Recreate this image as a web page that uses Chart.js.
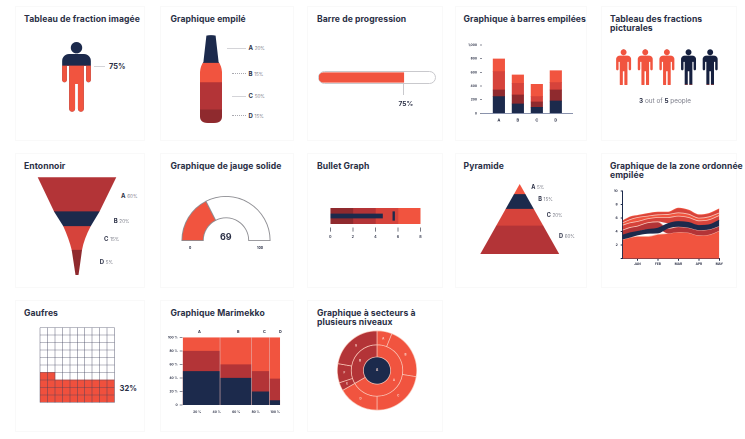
<!DOCTYPE html>
<html lang="fr">
<head>
<meta charset="utf-8">
<title>Graphiques</title>
<script src="https://cdn.jsdelivr.net/npm/chart.js@4"></script>
<style>
  html,body{margin:0;padding:0;background:#fff;width:745px;height:439px;overflow:hidden}
  #page{position:relative;width:745px;height:439px;font-family:Inter,"Open Sans",sans-serif;color:#2a2f45}
  canvas{position:absolute}
  .card{position:absolute;border:1px solid #f9f9f9;box-sizing:border-box}
  .title{position:absolute;font-weight:700;font-size:8.6px;line-height:9px;letter-spacing:.08px;white-space:nowrap;color:#2b3046}
  .lab{position:absolute;white-space:nowrap;transform:translateY(-50%);line-height:1}
  .lab b{font-weight:700;color:#2b3046}
  .pct{color:#7f818c;font-size:4.6px}
  .rule{position:absolute;height:0;border-top:1px solid #d4d4d8}
  .rule.dot{border-top-style:dotted;border-top-color:#a9a9b0}
</style>
</head>
<body>
<div id="page"></div>
<script>
const RED = '#f1543f', MID = '#b33437', SOFT = '#d6433b', DARK = '#8f2a2e', NAVY = '#1c2a4c';

// tableau de fraction imagée
const personFraction = 75;
// graphique empilé (bottom to top), segment heights
const bottleLabels = ['A', 'B', 'C', 'D'];
const bottleText = ['20%', '15%', '50%', '15%'];
const bottleHeights = [15, 31, 22, 32];
// barre de progression
const progressValue = 75;
// barres empilées
const barCategories = ['A', 'B', 'C', 'D'];
const barNavy = [244, 137, 88, 180];
const barDark = [97, 131, 78, 161];
const barMid = [269, 171, 78, 108];
const barLight = [185, 122, 180, 175];
// fractions picturales
const peopleRed = [1, 1, 1, 0, 0];
const peopleNavy = [0, 0, 0, 1, 1];
// entonnoir (bottom to top)
const funnelHeights = [26, 24, 15, 35];
// jauge
const gaugeValue = '69';
const gaugeShares = [35, 65];
// bullet graph
const bulletBands = [[0, 2], [2, 4], [4, 6], [6, 8]];
const bulletMeasure = 4.63;
const bulletTarget = [5.55, 5.7];
// pyramide (bottom to top)
const pyramidHeights = [40, 24, 21, 15];
// zone ordonnée empilée
const areaMonths = ['JAN', 'FEB', 'MAR', 'APR', 'MAY'];
const areaX = [-0.72, -0.35, 0, 0.5, 1, 1.5, 2, 2.5, 3, 3.5, 4];
const areaBase = [2.85, 3.14, 3.3, 3.3, 3.59, 3.73, 3.93, 3.83, 3.44, 3.54, 4.13];
const navyLow = [2.85, 3.14, 3.44, 3.69, 3.74, 4.47, 4.72, 4.57, 4.23, 4.32, 4.82];
const navyHigh = [3.49, 3.83, 4.03, 4.33, 4.52, 5.21, 5.5, 5.36, 4.91, 5.01, 5.7];
const darkLow = [3.49, 3.83, 4.03, 4.33, 4.33, 3.73, 3.93, 3.83, 3.44, 3.54, 4.13];
const darkHigh = [4.23, 4.62, 4.82, 5.31, 5.45, 4.47, 4.72, 4.57, 4.23, 4.32, 4.82];
const upperLow = [4.23, 4.62, 4.82, 5.31, 5.5, 5.25, 5.5, 5.36, 4.91, 5.01, 5.7];
const upperOne = [4.96, 5.31, 5.5, 5.9, 6.09, 6.09, 6.29, 6.09, 5.6, 5.75, 6.39];
const upperTwo = [5.31, 5.8, 6.09, 6.29, 6.49, 6.54, 6.78, 6.58, 6.0, 6.19, 6.78];
const upperTop = [5.6, 6.19, 6.39, 6.68, 6.88, 6.88, 7.47, 7.17, 6.49, 6.68, 7.37];
// gaufres: filled cells per column
const waffleColumns = [4, 4, 3, 3, 3, 3, 3, 3, 3, 3];
// marimekko
const mekkoEdges = [0, 38.3, 70.7, 89, 100];
const mekkoNavy = [50, 40, 20, 7];
const mekkoMid = [80, 60, 50, 39];
const mekkoTop = [100, 100, 100, 100];
// secteurs à plusieurs niveaux
const sunOuter = [22, 77, 81, 60, 12, 28, 80];
const sunOuterColors = [RED, RED, RED, RED, MID, MID, MID];
const sunOuterLabels = ['A', 'B', 'C', 'D', 'E', 'F', 'G'];
const sunMiddle = [240, 120];
const sunMiddleColors = [RED, MID];
const sunMiddleLabels = ['A', 'B'];

Chart.defaults.animation = false;
Chart.defaults.responsive = false;
Chart.defaults.devicePixelRatio = 2;
Chart.defaults.plugins.legend.display = false;
Chart.defaults.plugins.tooltip.enabled = false;
Chart.defaults.font.family = 'Inter, "Open Sans", sans-serif';

const page = document.getElementById('page');

function addCanvas(left, top, width, height){
  const c = document.createElement('canvas');
  c.width = width; c.height = height;
  c.style.left = left + 'px';
  c.style.top = top + 'px';
  page.appendChild(c);
  return c;
}
function addBox(cls, left, top, width, height){
  const d = document.createElement('div');
  d.className = cls;
  d.style.cssText = `left:${left}px;top:${top}px;width:${width}px;height:${height}px`;
  page.appendChild(d);
  return d;
}
function addLabel(html, x, y, size, extra){
  const s = document.createElement('span');
  s.className = 'lab';
  s.innerHTML = html;
  s.style.cssText = `left:${x}px;top:${y}px;font-size:${size}px;${extra || ''}`;
  page.appendChild(s);
}
function addRule(x0, x1, y, dotted){
  const d = document.createElement('div');
  d.className = 'rule' + (dotted ? ' dot' : '');
  d.style.cssText = `left:${x0}px;top:${y}px;width:${x1 - x0}px`;
  page.appendChild(d);
}
function addTitle(text, x, y){
  const d = document.createElement('div');
  d.className = 'title';
  d.innerHTML = text;
  d.style.left = x + 'px';
  d.style.top = y + 'px';
  page.appendChild(d);
}

// cards and titles
[[15, 6, 130, 135], [160, 6, 134, 135], [307, 6, 136, 135], [455, 6, 132, 135], [601, 6, 136, 135],
 [15, 153, 130, 135], [160, 153, 134, 135], [307, 153, 136, 135], [455, 153, 132, 135], [601, 153, 136, 135],
 [15, 300, 130, 132], [160, 300, 134, 132], [307, 300, 136, 132]].forEach(r => addBox('card', r[0], r[1], r[2], r[3]));

addTitle('Tableau de fraction imagée', 24, 14.5);
addTitle('Graphique empilé', 170.5, 14.5);
addTitle('Barre de progression', 317, 14.5);
addTitle('Graphique à barres empilées', 463.5, 14.5);
addTitle('Tableau des fractions<br>picturales', 610, 14.5);
addTitle('Entonnoir', 24, 161.5);
addTitle('Graphique de jauge solide', 170.5, 161.5);
addTitle('Bullet Graph', 317, 161.5);
addTitle('Pyramide', 463.5, 161.5);
addTitle('Graphique de la zone ordonnée<br>empilée', 610, 161.5);
addTitle('Gaufres', 24, 308.5);
addTitle('Graphique Marimekko', 170.5, 308.5);
addTitle('Graphique à secteurs à<br>plusieurs niveaux', 317, 308.5);

const hidden = {display: false};

function personPath(path, x, y, s){
  const add = (px, py, w, h, r) => path.roundRect(x + px * s, y + py * s, w * s, h * s, r.map ? r.map(v => v * s) : r * s);
  path.moveTo(x + (14.35 + 5.7) * s, y + 5.7 * s);
  path.arc(x + 14.35 * s, y + 5.7 * s, 5.7 * s, 0, Math.PI * 2);
  add(0, 12, 28.7, 12, [7, 7, 0, 0]);
  add(0, 20, 4.7, 20.3, 2.3);
  add(24, 20, 4.7, 20.3, 2.3);
  add(7, 20, 14.7, 22, 0);
  add(7, 30, 5.9, 39.7, 2.8);
  add(15.8, 30, 5.9, 39.7, 2.8);
}

// clips the datasets of a chart to a shape, with an optional full-shape underlay
function shapeClip(makePath, underlay){
  return {
    id: 'shapeClip',
    beforeDatasetsDraw(chart){
      const ctx = chart.ctx, path = makePath(chart);
      ctx.save();
      if(underlay){ ctx.fillStyle = underlay; ctx.fill(path); }
      ctx.clip(path);
    },
    afterDatasetsDraw(chart){ chart.ctx.restore(); }
  };
}

function stackedShape(left, top, width, height, heights, colors, makePath){
  const total = heights.reduce((a, b) => a + b, 0);
  return new Chart(addCanvas(left, top, width, height), {
    type: 'bar',
    data: {
      labels: ['x'],
      datasets: heights.map((h, i) => ({data: [h], backgroundColor: colors[i], barPercentage: 1, categoryPercentage: 1}))
    },
    options: {
      scales: {x: {display: false, stacked: true}, y: {display: false, stacked: true, min: 0, max: total}}
    },
    plugins: [shapeClip(makePath)]
  });
}

// 1. personne
new Chart(addCanvas(62, 42, 29, 70), {
  type: 'bar',
  data: {labels: ['x'], datasets: [{data: [personFraction], backgroundColor: RED, barPercentage: 1, categoryPercentage: 1}]},
  options: {scales: {x: hidden, y: {display: false, min: 0, max: 114}}},
  plugins: [shapeClip(() => { const p = new Path2D(); personPath(p, 0.15, 0, 1); return p; }, NAVY)]
});
addRule(94, 105, 66);
addLabel('<b>75%</b>', 109, 66.5, 7.4);

// 2. bouteille
stackedShape(200, 35, 22, 88, bottleHeights, [DARK, MID, RED, NAVY], chart => {
  const p = new Path2D();
  p.moveTo(6.4, 0.6);
  p.quadraticCurveTo(11, -0.4, 15.6, 0.6);
  p.lineTo(18.6, 27);
  p.quadraticCurveTo(21.6, 31, 22, 37);
  p.lineTo(22, 82);
  p.quadraticCurveTo(21.6, 88, 14, 88);
  p.lineTo(8, 88);
  p.quadraticCurveTo(0.4, 88, 0, 82);
  p.lineTo(0, 37);
  p.quadraticCurveTo(0.4, 31, 3.4, 27);
  p.closePath();
  return p;
});
addRule(227, 245.5, 48);
addRule(231.5, 245.5, 73, true);
addRule(232, 245.5, 95.5);
addRule(231.5, 245.5, 115, true);
[48, 73.5, 96, 115.5].forEach((y, i) => addLabel(`<b>${bottleLabels[i]}</b> <span class="pct">${bottleText[i]}</span>`, 248.5, y, 6));

// 3. barre de progression
addBox('', 318, 71, 118, 12.5).style.cssText += ';position:absolute;box-sizing:border-box;border:1px solid #c9c9cd;border-radius:7px;background:#fff';
new Chart(addCanvas(318, 71, 118, 13), {
  type: 'bar',
  data: {labels: ['x'], datasets: [{data: [progressValue], backgroundColor: RED, barThickness: 9.5, borderRadius: {topLeft: 5, bottomLeft: 5}, borderSkipped: false}]},
  options: {
    indexAxis: 'y',
    layout: {padding: {left: 1, right: 4}},
    scales: {x: {display: false, min: 0, max: 100}, y: hidden}
  }
});
addBox('', 403, 83, 0, 12).style.cssText += ';position:absolute;border-left:1px solid #c9c9cd';
addLabel('<b>75%</b>', 398.5, 103.5, 6.6);

// 4. barres empilées
new Chart(addCanvas(462, 38, 116, 88), {
  type: 'bar',
  data: {
    datasets: [barNavy, barDark, barMid, barLight].map((vals, k) => ({
      data: vals.map((y, i) => ({x: i, y})),
      backgroundColor: [NAVY, DARK, SOFT, RED][k],
      barThickness: 11.5
    }))
  },
  options: {
    layout: {padding: {left: 2, top: 7, right: 5.3, bottom: 0}},
    scales: {
      x: {
        type: 'linear', stacked: true, offset: false, min: -0.89, max: 3.89,
        afterFit(s){ s.height = 12.7; },
        border: {color: '#8a93ad', width: 1},
        grid: {drawOnChartArea: false, drawTicks: false, offset: false},
        ticks: {stepSize: 1, includeBounds: false, padding: 4.5, maxRotation: 0, font: {size: 4, weight: 700}, color: '#2b3046', callback: v => barCategories[v]}
      },
      y: {
        stacked: true, min: 0, max: 1000,
        afterFit(s){ s.width = 18; },
        border: {display: false},
        grid: {drawOnChartArea: false, tickLength: 2, color: '#8a8d99'},
        ticks: {stepSize: 200, padding: 3, font: {size: 3.2, weight: 700}, color: '#2b3046'}
      }
    }
  }
});

// 5. personnes
new Chart(addCanvas(612, 49, 110, 36), {
  type: 'bar',
  data: {
    labels: peopleRed.map((v, i) => i),
    datasets: [
      {data: peopleRed, backgroundColor: RED, barPercentage: 1, categoryPercentage: 1},
      {data: peopleNavy, backgroundColor: '#16203f', barPercentage: 1, categoryPercentage: 1}
    ]
  },
  options: {
    layout: {padding: {left: 0.8, right: 1}},
    scales: {x: {display: false, stacked: true}, y: {display: false, stacked: true, min: 0, max: 1}}
  },
  plugins: [shapeClip(chart => {
    const p = new Path2D();
    peopleRed.forEach((v, i) => personPath(p, chart.scales.x.getPixelForValue(i) - 7.5, 0.3, 0.522));
    return p;
  })]
});
addLabel('<b>3</b> out of <b>5</b> people', 639, 100.7, 6.4, 'color:#7d7f8b');

// 6. entonnoir
stackedShape(37, 177, 80, 99, funnelHeights, [DARK, SOFT, NAVY, MID], () => {
  const p = new Path2D();
  p.moveTo(0.7, 0.3);
  p.lineTo(79.3, 0.3);
  p.lineTo(62.3, 35);
  p.lineTo(53.7, 49.3);
  p.quadraticCurveTo(47, 62, 45, 73);
  p.quadraticCurveTo(43, 88, 41.5, 98);
  p.lineTo(38.5, 98);
  p.quadraticCurveTo(37, 88, 34.7, 73);
  p.quadraticCurveTo(32, 62, 26.3, 49.3);
  p.lineTo(17.3, 35);
  p.closePath();
  return p;
});
[['A', '60%', 121, 196], ['B', '20%', 113.7, 220.5], ['C', '15%', 104, 239], ['D', '5%', 99.7, 261.5]]
  .forEach(r => addLabel(`<b>${r[0]}</b> <span class="pct">${r[1]}</span>`, r[2], r[3], 6));

// 7. jauge
new Chart(addCanvas(181, 196, 90, 45), {
  type: 'doughnut',
  data: {datasets: [{data: gaugeShares, backgroundColor: [RED, '#fff'], borderColor: '#8d8d92', borderWidth: 0.9, borderJoinStyle: 'miter'}]},
  options: {rotation: -90, circumference: 180, cutout: '51.5%'}
});
addLabel('<b style="color:#2b3046">' + gaugeValue + '</b>', 220, 235.5, 9);
addLabel('<b>0</b>', 189, 249, 3.4);
addLabel('<b>100</b>', 257, 249, 3.4);

// 8. bullet graph
new Chart(addCanvas(326, 200, 100, 46), {
  type: 'bar',
  data: {
    labels: ['x'],
    datasets: [
      {data: [bulletTarget], backgroundColor: NAVY, barThickness: 8.5, grouped: false},
      {data: [[0, bulletMeasure]], backgroundColor: NAVY, barThickness: 4.2, grouped: false},
      ...bulletBands.map((band, i) => ({data: [band], backgroundColor: [DARK, MID, SOFT, RED][i], barThickness: 15.4, grouped: false}))
    ]
  },
  options: {
    indexAxis: 'y',
    layout: {padding: {left: 4, right: 5.5, top: 4.4, bottom: 0}},
    scales: {
      x: {
        min: 0, max: 8,
        afterFit(s){ s.height = 18.4; },
        border: {display: false},
        grid: {drawOnChartArea: false, tickLength: 4, color: '#777a85'},
        ticks: {stepSize: 2, padding: 3, maxRotation: 0, font: {size: 3.8, weight: 600}, color: '#2b3046'}
      },
      y: hidden
    }
  }
});

// 9. pyramide
stackedShape(480, 184, 80, 70, pyramidHeights, [MID, SOFT, NAVY, RED], () => {
  const p = new Path2D();
  p.moveTo(39.7, 0);
  p.lineTo(79.2, 70);
  p.lineTo(0.3, 70);
  p.closePath();
  return p;
});
[['A', '5%', 531.3, 188], ['B', '15%', 538.3, 200], ['C', '20%', 546.7, 215.5], ['D', '60%', 559, 237]]
  .forEach(r => addLabel(`<b>${r[0]}</b> <span class="pct">${r[1]}</span>`, r[2], r[3], 5.6));

// 10. zone ordonnée empilée
const PALE = '#f9c6b8';
const toPoints = vals => vals.map((y, i) => ({x: areaX[i], y}));
const areaLayers = [
  {low: navyLow, high: navyHigh, color: NAVY, line: NAVY},
  {low: darkLow, high: darkHigh, color: MID, line: PALE},
  {low: upperLow, high: upperOne, color: SOFT, line: PALE},
  {low: upperOne, high: upperTwo, color: RED, line: PALE},
  {low: upperTwo, high: upperTop, color: SOFT, line: RED}
];
const areaDatasets = [];
areaLayers.forEach(l => {
  areaDatasets.push({data: toPoints(l.high), backgroundColor: l.color, borderColor: l.line, borderWidth: 0.8, fill: areaDatasets.length + 1});
  areaDatasets.push({data: toPoints(l.low), borderWidth: 0, fill: false});
});
areaDatasets.push({data: toPoints(areaBase), backgroundColor: RED, borderColor: PALE, borderWidth: 0.8, fill: 'origin'});
new Chart(addCanvas(610, 186, 116, 84), {
  type: 'scatter',
  data: {datasets: areaDatasets.map(d => ({...d, showLine: true, pointRadius: 0, cubicInterpolationMode: 'monotone'}))},
  options: {
    layout: {padding: {left: 1, top: 5, right: 6.7, bottom: 0}},
    scales: {
      x: {
        type: 'linear', min: -0.72, max: 4,
        afterFit(s){ s.height = 11.3; },
        border: {color: '#1c2a4c', width: 1},
        grid: {drawOnChartArea: false, tickLength: 2, color: '#1c2a4c'},
        ticks: {stepSize: 1, includeBounds: false, padding: 1.5, maxRotation: 0, font: {size: 3.2, weight: 700}, color: '#2b3046', callback: v => areaMonths[v]}
      },
      y: {
        min: 0, max: 10,
        afterFit(s){ s.width = 11.7; },
        border: {color: '#1c2a4c', width: 1},
        grid: {drawOnChartArea: false, tickLength: 2, color: '#1c2a4c'},
        ticks: {stepSize: 2, padding: 3, font: {size: 3.4, weight: 700}, color: '#2b3046', callback: v => v === 0 ? '' : v}
      }
    }
  }
});

// 11. gaufres
const WAFFLE_LINE = 'rgba(62,66,92,.7)';
new Chart(addCanvas(38, 325, 79, 80), {
  type: 'bar',
  data: {labels: waffleColumns.map((v, i) => i), datasets: [{data: waffleColumns, backgroundColor: '#f0503d', barPercentage: 1, categoryPercentage: 1}]},
  options: {
    layout: {padding: {left: 2, top: 2.7, right: 2.5, bottom: 2.7}},
    scales: {
      x: {afterFit(s){ s.height = 0; }, grid: {offset: true, z: 1, color: WAFFLE_LINE, lineWidth: 0.6, drawTicks: false}, border: {display: false}, ticks: {display: false}},
      y: {min: 0, max: 10, afterFit(s){ s.width = 0; }, grid: {z: 1, color: WAFFLE_LINE, lineWidth: 0.6, drawTicks: false}, border: {display: false}, ticks: {display: false, stepSize: 1}}
    }
  }
});
addLabel('<b>32%</b>', 119.5, 389, 7.6);

// 12. marimekko
const mekkoStep = heights => heights.flatMap((h, i) => [{x: mekkoEdges[i], y: h}, {x: mekkoEdges[i + 1], y: h}]);
const mekkoSplits = mekkoEdges.slice(1, 4).map(x => ({data: [{x, y: 0}, {x, y: 100}], borderColor: '#e8b5b1', borderWidth: 0.6, fill: false}));
new Chart(addCanvas(164, 332, 126, 88), {
  type: 'scatter',
  data: {
    datasets: [
      ...mekkoSplits,
      {data: mekkoStep(mekkoNavy), backgroundColor: NAVY, borderWidth: 0, fill: 'origin'},
      {data: mekkoStep(mekkoMid), backgroundColor: MID, borderWidth: 0, fill: 'origin'},
      {data: mekkoStep(mekkoTop), backgroundColor: RED, borderWidth: 0, fill: 'origin'}
    ].map(d => ({...d, showLine: true, pointRadius: 0}))
  },
  options: {
    layout: {padding: {left: 0, top: 5.3, right: 4, bottom: 0}},
    scales: {
      x: {
        type: 'linear', min: 0, max: 100,
        afterFit(s){ s.height = 15; },
        border: {display: false},
        grid: {drawOnChartArea: false, drawTicks: false},
        ticks: {stepSize: 20, padding: 5, labelOffset: -5, maxRotation: 0, font: {size: 3.2, weight: 700}, color: '#2b3046', callback: v => v === 0 ? '' : v + ' %'}
      },
      y: {
        min: 0, max: 100,
        afterFit(s){ s.width = 18.7; },
        border: {display: false},
        grid: {drawOnChartArea: false, tickLength: 3, color: '#8a8d99'},
        ticks: {stepSize: 20, padding: 2, font: {size: 3.2, weight: 700}, color: '#2b3046', callback: v => v === 0 ? '0' : v + ' %'}
      }
    }
  }
});
[['A', 199], ['B', 238], ['C', 264], ['D', 280]].forEach(r => addLabel('<b>' + r[0] + '</b>', r[1] - 1, 331.7, 3.8));

// 13. secteurs à plusieurs niveaux
const ringLabels = {
  id: 'ringLabels',
  afterDatasetsDraw(chart){
    const ctx = chart.ctx;
    ctx.save();
    ctx.fillStyle = '#fbd9cf';
    ctx.font = '700 3px Inter';
    ctx.textAlign = 'center';
    ctx.textBaseline = 'middle';
    [sunOuterLabels, sunMiddleLabels].forEach((names, k) => {
      chart.getDatasetMeta(k).data.forEach((arc, i) => {
        const p = arc.getCenterPoint();
        ctx.fillText(names[i], p.x, p.y);
      });
    });
    ctx.restore();
  }
};
new Chart(addCanvas(337, 330, 80, 81), {
  type: 'doughnut',
  data: {
    datasets: [
      {data: sunOuter, backgroundColor: sunOuterColors, borderColor: '#f9c6b8', borderWidth: 0.7, weight: 14},
      {data: sunMiddle, backgroundColor: sunMiddleColors, borderColor: '#f9c6b8', borderWidth: 0.7, weight: 12.3},
      {data: [1], backgroundColor: NAVY, borderWidth: 0, weight: 13.7}
    ]
  },
  options: {cutout: 0},
  plugins: [ringLabels]
});
addLabel('<b style="color:#f8d6cc">A</b>', 376, 370.4, 3);
</script>
</body>
</html>
